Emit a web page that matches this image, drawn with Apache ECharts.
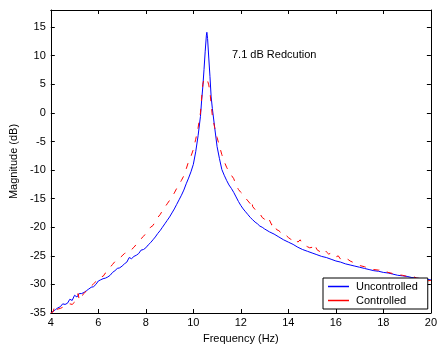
<!DOCTYPE html>
<html><head><meta charset="utf-8">
<script src="https://cdn.jsdelivr.net/npm/echarts@6/dist/echarts.min.js"></script>
<style>html,body{margin:0;padding:0;background:#fff}#c{width:440px;height:349px}</style>
</head><body><div id="c"></div>
<script>
const seriesNames = ['Uncontrolled', 'Controlled'];
const annotationText = '7.1 dB Redcution';
const xTitle = 'Frequency (Hz)';
const yTitle = 'Magnitude (dB)';

const freqUncontrolled = [4.0,4.1,4.2,4.3,4.4,4.5,4.6,4.7,4.8,4.9,5.0,5.1,5.2,5.3,5.4,5.5,5.6,5.7,5.8,5.9,
6.0,6.1,6.2,6.3,6.4,6.5,6.6,6.7,6.8,6.9,7.0,7.1,7.2,7.3,7.4,7.5,7.6,7.7,7.8,7.9,
8.0,8.1,8.2,8.3,8.4,8.5,8.6,8.7,8.8,8.9,9.0,9.1,9.2,9.3,9.4,9.5,9.6,9.7,9.8,9.9,
10.0,10.1,10.2,10.3,10.35,10.4,10.45,10.5,10.55,10.57,10.6,10.65,10.7,10.75,10.8,10.9,
11.0,11.1,11.2,11.3,11.4,11.5,11.6,11.7,11.8,11.9,12.0,12.1,12.2,12.3,12.4,12.5,12.6,12.7,12.8,12.9,
13.0,13.2,13.4,13.6,13.8,14.0,14.2,14.4,14.6,14.8,15.0,15.2,15.4,15.6,15.8,16.0,16.2,16.4,16.6,16.8,
17.0,17.2,17.4,17.6,17.8,18.0,18.2,18.4,18.6,18.8,19.0,19.2,19.4,19.6,19.8,20.0];
const magUncontrolled = [-35.0,-34.7,-34.4,-34.1,-33.9,-33.4,-33.5,-33.3,-32.6,-32.8,-31.9,-32.2,-31.6,-31.6,-31.4,-31.1,-30.8,-30.5,-30.4,-30.0,
-29.4,-29.2,-29.0,-28.9,-28.7,-28.4,-27.9,-27.6,-27.2,-27.1,-26.8,-26.4,-26.1,-25.3,-25.5,-25.1,-24.9,-24.6,-24.0,-23.9,
-23.6,-23.1,-22.7,-22.2,-21.7,-21.1,-20.6,-20.0,-19.4,-18.8,-18.2,-17.5,-16.8,-16.0,-15.2,-14.4,-13.5,-12.4,-11.4,-10.3,
-9.0,-6.8,-4.0,-0.6,2.2,4.6,7.6,10.8,13.6,14.1,13.0,9.6,6.4,2.8,0.8,-2.6,
-5.9,-8.0,-9.9,-10.9,-11.8,-12.6,-13.2,-13.9,-14.7,-15.5,-16.2,-16.8,-17.3,-17.8,-18.3,-18.7,-19.1,-19.4,-19.8,-20.0,
-20.3,-20.8,-21.2,-21.7,-22.2,-22.6,-23.0,-23.5,-23.9,-24.2,-24.5,-24.8,-25.1,-25.3,-25.6,-25.9,-26.1,-26.4,-26.6,-26.8,
-27.0,-27.2,-27.4,-27.6,-27.7,-27.9,-28.0,-28.2,-28.4,-28.5,-28.6,-28.8,-28.9,-29.0,-29.1,-29.2];

const freqControlled = [4.0,4.1,4.15,4.2,4.3,4.4,4.5,4.6,4.7,4.8,4.9,5.0,5.1,5.15,5.2,5.3,5.4,5.5,5.6,5.7,5.8,5.9,
6.0,6.1,6.2,6.3,6.4,6.5,6.6,6.7,6.8,6.9,7.0,7.1,7.2,7.3,7.4,7.5,7.6,7.7,7.8,7.9,
8.0,8.1,8.2,8.3,8.4,8.5,8.6,8.7,8.8,8.9,9.0,9.1,9.2,9.3,9.4,9.5,9.6,9.7,9.8,9.9,
10.0,10.1,10.2,10.3,10.35,10.4,10.45,10.5,10.55,10.6,10.65,10.7,10.8,10.9,
11.0,11.1,11.2,11.3,11.4,11.5,11.6,11.7,11.8,11.9,12.0,12.1,12.2,12.3,12.4,12.45,12.5,12.6,12.7,12.8,12.9,
13.0,13.1,13.2,13.3,13.4,13.5,13.6,13.7,13.8,13.9,14.0,14.1,14.2,14.3,14.4,14.5,14.6,14.7,14.8,14.9,
15.0,15.1,15.2,15.3,15.4,15.5,15.6,15.7,15.8,15.9,16.0,16.1,16.2,16.4,16.5,16.6,16.7,16.8,
17.0,17.2,17.4,17.6,17.8,17.9,18.0,18.2,18.4,18.6,18.8,19.0,19.2,19.4,19.6,19.8,20.0];
const magControlled = [-35.0,-34.8,-33.9,-34.6,-34.3,-34.2,-34.0,-33.9,-33.7,-33.4,-33.5,-33.1,-32.6,-31.6,-32.8,-32.0,-31.6,-31.1,-30.8,-30.3,-29.9,-29.5,
-29.1,-28.6,-28.6,-28.0,-27.6,-27.0,-26.5,-26.0,-25.9,-25.4,-25.0,-24.6,-24.4,-24.4,-23.9,-23.5,-23.0,-22.5,-22.0,-21.6,
-21.1,-20.5,-20.0,-19.7,-19.0,-18.3,-17.8,-17.1,-16.5,-15.9,-15.3,-14.7,-14.0,-13.2,-12.5,-11.8,-11.0,-9.8,-8.5,-7.6,
-6.4,-4.6,-2.6,0.0,2.6,5.0,6.0,6.1,6.0,5.6,4.9,3.6,-0.5,-2.6,
-4.3,-5.8,-7.3,-8.5,-9.5,-10.3,-10.9,-11.5,-12.6,-13.4,-13.9,-14.3,-14.9,-15.4,-15.9,-15.3,-16.4,-16.9,-17.4,-17.6,-18.3,
-18.6,-19.2,-18.7,-19.6,-19.3,-20.4,-20.6,-21.0,-20.9,-21.4,-21.8,-22.1,-22.3,-22.0,-22.6,-22.2,-23.0,-23.2,-23.4,-23.6,
-23.5,-22.9,-23.9,-24.2,-24.3,-23.8,-24.3,-24.7,-24.5,-25.0,-25.2,-25.0,-25.6,-25.9,-25.6,-25.9,-26.1,-26.4,
-26.7,-26.9,-27.2,-27.4,-27.5,-27.4,-27.6,-27.9,-28.1,-28.3,-28.4,-28.6,-28.5,-28.9,-29.0,-29.4,-29.3];

const pairs = (xs, ys) => xs.map((x, i) => [x, ys[i]]);
const font = "'Liberation Sans', Arial, sans-serif";
const chart = echarts.init(document.getElementById('c'));
const axCommon = {
  axisLine: {show: true, onZero: false, lineStyle: {color: '#000', width: 1}},
  axisTick: {show: true, inside: true, length: 4, lineStyle: {color: '#000'}},
  splitLine: {show: false},
  axisLabel: {color: '#000', fontSize: 11, fontFamily: font}
};
chart.setOption({
  animation: false,
  backgroundColor: '#fff',
  grid: {left: 49, right: 4, top: 10, bottom: 33, containLabel: false},
  xAxis: [
    Object.assign({}, axCommon, {type: 'value', min: 4, max: 20, interval: 2, position: 'bottom',
      name: xTitle, nameLocation: 'middle', nameGap: 20,
      nameTextStyle: {color: '#000', fontSize: 11, fontFamily: font},
      axisLabel: {color: '#000', fontSize: 11, fontFamily: font, margin: 4}}),
    Object.assign({}, axCommon, {type: 'value', min: 4, max: 20, interval: 2, position: 'top',
      axisLabel: {show: false}})
  ],
  yAxis: [
    Object.assign({}, axCommon, {type: 'value', min: -35, max: 18, interval: 5, position: 'left',
      name: yTitle, nameLocation: 'middle', nameGap: 28,
      nameTextStyle: {color: '#000', fontSize: 11, fontFamily: font},
      axisLabel: {color: '#000', fontSize: 11, fontFamily: font, margin: 5,
        formatter: v => (v % 5 === 0 ? String(v) : '')}}),
    Object.assign({}, axCommon, {type: 'value', min: -35, max: 18, interval: 5, position: 'right',
      axisLabel: {show: false}})
  ],
  legend: {
    show: true, orient: 'vertical', left: 323, top: 278,
    data: seriesNames,
    backgroundColor: '#fff', borderColor: '#000', borderWidth: 1,
    padding: [2, 10, 2, 5], itemWidth: 21, itemHeight: 1.5, itemGap: 1,
    icon: 'rect', itemStyle: {borderWidth: 0},
    textStyle: {color: '#000', fontSize: 11, fontFamily: font, lineHeight: 13, padding: [0,0,0,2]}
  },
  graphic: [{type: 'text', left: 232, top: 49,
    style: {text: annotationText, fill: '#000', font: '11px ' + font}}],
  series: [
    {name: seriesNames[0], type: 'line', data: pairs(freqUncontrolled, magUncontrolled),
     showSymbol: false, symbol: 'none', color: '#0000ff',
     lineStyle: {color: '#0000ff', width: 1}},
    {name: seriesNames[1], type: 'line', data: pairs(freqControlled, magControlled),
     showSymbol: false, symbol: 'none', color: '#ff0000',
     lineStyle: {color: '#ff0000', width: 1, type: [6, 8]}}
  ]
});
</script></body></html>
